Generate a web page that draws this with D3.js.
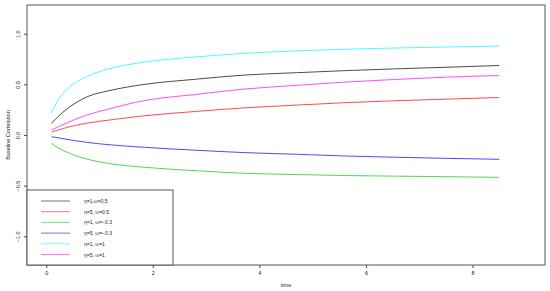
<!DOCTYPE html>
<html lang="en">
<head>
<meta charset="utf-8">
<title>Baseline Correlation</title>
<script src="https://cdn.jsdelivr.net/npm/d3@7"></script>
<style>
  body { margin: 0; background: #fff; }
  text { font-family: "Liberation Sans", Arial, sans-serif; }
</style>
</head>
<body>
<script>
// data
var times = [0.1, 0.22, 0.41, 0.78, 1.16, 1.85, 2.8, 3.73, 4.7, 5.6, 6.5, 7.47, 8.5];
var eta1_w05  = [0.115, 0.18, 0.265, 0.38, 0.435, 0.50, 0.55, 0.592, 0.615, 0.635, 0.652, 0.668, 0.686];
var eta5_w05  = [0.03, 0.048, 0.078, 0.118, 0.146, 0.19, 0.232, 0.268, 0.295, 0.319, 0.337, 0.353, 0.37];
var eta1_wm03 = [-0.082, -0.125, -0.175, -0.24, -0.28, -0.319, -0.352, -0.378, -0.39, -0.40, -0.406, -0.411, -0.418];
var eta5_wm03 = [-0.017, -0.027, -0.045, -0.074, -0.095, -0.122, -0.15, -0.174, -0.19, -0.207, -0.219, -0.23, -0.24];
var eta1_w1   = [0.22, 0.34, 0.46, 0.58, 0.65, 0.72, 0.77, 0.806, 0.83, 0.846, 0.858, 0.868, 0.877];
var eta5_w1   = [0.05, 0.08, 0.125, 0.2, 0.255, 0.34, 0.40, 0.454, 0.49, 0.522, 0.547, 0.57, 0.587];

var seriesNames = ["η=1,ω=0.5", "η=5, ω=0.5", "η=1, ω=−0.3", "η=5, ω=−0.3", "η=1, ω=1", "η=5, ω=1"];
var seriesValues = [eta1_w05, eta5_w05, eta1_wm03, eta5_wm03, eta1_w1, eta5_w1];
var seriesColors = ["#000000", "#ff0000", "#00cd00", "#0000ff", "#00ffff", "#ff00ff"];

var xTicks = [0, 2, 4, 6, 8];
var yTicks = [-1, -0.5, 0, 0.5, 1];

var w = 550, h = 291;
var plotL = 27, plotR = 545, plotT = 5, plotB = 265;

var svg = d3.select("body").append("svg")
  .attr("width", w)
  .attr("height", h);

var xScale = d3.scaleLinear().domain([-0.36, 9.36]).range([plotL, plotR]);
var yScale = d3.scaleLinear().domain([-1.283, 1.283]).range([plotB, plotT]);

// curves
var line = d3.line()
  .x(function(d) { return xScale(d[0]); })
  .y(function(d) { return yScale(d[1]); })
  .curve(d3.curveMonotoneX);

seriesValues.forEach(function(vals, i) {
  svg.append("path")
    .datum(times.map(function(t, j) { return [t, vals[j]]; }))
    .attr("d", line)
    .attr("fill", "none")
    .attr("stroke", seriesColors[i])
    .attr("stroke-width", 1)
    .attr("opacity", 0.7);
});

// axes
var xAxis = d3.axisBottom(xScale).tickValues(xTicks).tickSize(3).tickPadding(3).tickFormat(d3.format("d"));
var yAxis = d3.axisLeft(yScale).tickValues(yTicks).tickSize(3).tickFormat(d3.format(".1f"));

var gx = svg.append("g")
  .attr("transform", "translate(0," + plotB + ")")
  .call(xAxis);
gx.select(".domain").remove();
gx.selectAll("line").attr("stroke", "#444");
gx.selectAll("text").attr("font-size", 5.5).attr("fill", "#222");

var gy = svg.append("g")
  .attr("transform", "translate(" + plotL + ",0)")
  .call(yAxis);
gy.select(".domain").remove();
gy.selectAll("line").attr("stroke", "#444");
gy.selectAll("text")
  .attr("font-size", 5.5)
  .attr("fill", "#222")
  .attr("text-anchor", "middle")
  .attr("dy", null)
  .attr("x", 0)
  .attr("y", -7)
  .attr("transform", "rotate(-90)");

// box
svg.append("rect")
  .attr("x", plotL).attr("y", plotT)
  .attr("width", plotR - plotL).attr("height", plotB - plotT)
  .attr("fill", "none")
  .attr("stroke", "#555")
  .attr("stroke-width", 1);

// axis titles
svg.append("text")
  .attr("x", (plotL + plotR) / 2)
  .attr("y", 287)
  .attr("text-anchor", "middle")
  .attr("font-size", 5.5)
  .attr("fill", "#222")
  .text("time");

svg.append("text")
  .attr("transform", "translate(10," + ((plotT + plotB) / 2) + ") rotate(-90)")
  .attr("text-anchor", "middle")
  .attr("font-size", 5.5)
  .attr("fill", "#222")
  .text("Baseline Correlation");

// legend
var legend = svg.append("g");
legend.append("rect")
  .attr("x", plotL).attr("y", 190)
  .attr("width", 173 - plotL).attr("height", plotB - 190)
  .attr("fill", "#fff")
  .attr("stroke", "#555")
  .attr("stroke-width", 1);

seriesNames.forEach(function(name, i) {
  var yy = 201 + i * 10.7;
  legend.append("line")
    .attr("x1", 41).attr("x2", 70)
    .attr("y1", yy).attr("y2", yy)
    .attr("stroke", seriesColors[i])
    .attr("stroke-width", 1)
    .attr("opacity", 0.55);
  legend.append("text")
    .attr("x", 84).attr("y", yy + 2)
    .attr("font-size", 5)
    .attr("fill", "#222")
    .text(name);
});
</script>
</body>
</html>
